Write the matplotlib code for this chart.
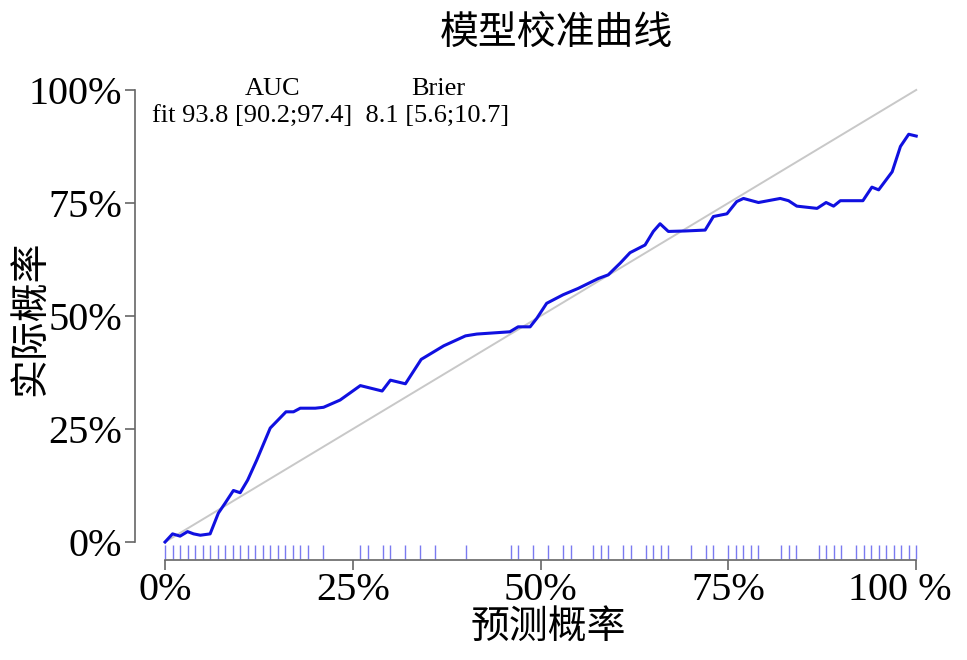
import matplotlib
matplotlib.use("Agg")
import matplotlib.pyplot as plt
from matplotlib.transforms import ScaledTranslation

plt.rcParams['font.family'] = ['Liberation Serif', 'Noto Sans CJK SC', 'DejaVu Sans']

pred = [0.0, 0.010, 0.020, 0.030, 0.038, 0.047, 0.060, 0.071, 0.080, 0.091, 0.100,
        0.110, 0.122, 0.140, 0.161, 0.171, 0.180, 0.200, 0.211, 0.233, 0.260, 0.289,
        0.300, 0.320, 0.341, 0.371, 0.400, 0.415, 0.459, 0.470, 0.486, 0.495, 0.508,
        0.530, 0.550, 0.577, 0.590, 0.606, 0.619, 0.639, 0.650, 0.659, 0.670, 0.692,
        0.719, 0.730, 0.748, 0.761, 0.770, 0.790, 0.819, 0.830, 0.841, 0.868, 0.880,
        0.890, 0.899, 0.929, 0.941, 0.950, 0.968, 0.979, 0.990, 1.0]
obs = [0.0, 0.018, 0.013, 0.023, 0.018, 0.015, 0.018, 0.064, 0.086, 0.114, 0.109,
       0.137, 0.181, 0.252, 0.288, 0.288, 0.296, 0.296, 0.298, 0.314, 0.346, 0.334,
       0.358, 0.350, 0.404, 0.434, 0.456, 0.460, 0.465, 0.476, 0.476, 0.495, 0.528,
       0.547, 0.561, 0.583, 0.591, 0.617, 0.640, 0.657, 0.687, 0.704, 0.687, 0.688,
       0.690, 0.720, 0.726, 0.753, 0.760, 0.751, 0.760, 0.755, 0.743, 0.738, 0.751,
       0.743, 0.755, 0.755, 0.785, 0.779, 0.819, 0.875, 0.902, 0.898]

# rug of predicted probabilities
rug = [i / 100 for i in range(20)] + [0.21, 0.26, 0.27, 0.29, 0.30, 0.32, 0.34, 0.36,
       0.40, 0.46, 0.47, 0.49, 0.51, 0.53, 0.54, 0.57, 0.58, 0.59, 0.61, 0.62, 0.64,
       0.65, 0.66, 0.67, 0.70, 0.72, 0.73, 0.75, 0.76, 0.77, 0.78, 0.79, 0.82, 0.83,
       0.84, 0.87, 0.88, 0.89, 0.90, 0.92, 0.93, 0.94, 0.95, 0.96, 0.97, 0.98, 0.99, 1.0]

ticks = [0, 0.25, 0.5, 0.75, 1.0]
xlabels = ['0%', '25%', '50%', '75%', '100 %']
ylabels = ['0%', '25%', '50%', '75%', '100%']

fig = plt.figure(figsize=(9.67, 6.6), dpi=100)
ax = fig.add_axes([135 / 967, 100 / 660, 800 / 967, 480 / 660])

ax.plot([0, 1], [0, 1], color='#c8c8c8', lw=1.4)
ax.plot(pred, obs, color='#1010e0', lw=2.2)
ax.vlines(rug, -0.0376, -0.0066, color='#7a7af0', lw=1.0)

ax.set_xlim(-0.04, 1.025)
ax.set_ylim(-0.0398, 1.022)

for s in ['top', 'right']:
    ax.spines[s].set_visible(False)
ax.spines['left'].set_bounds(0, 1)
ax.spines['bottom'].set_bounds(0, 1)
for s in ['left', 'bottom']:
    ax.spines[s].set_color('#666666')
    ax.spines[s].set_linewidth(1.2)

ax.set_xticks(ticks)
ax.set_xticklabels(xlabels)
ax.set_yticks(ticks)
ax.set_yticklabels(ylabels)
ax.tick_params(axis='both', colors='#666666', labelcolor='black', labelsize=29,
               length=7, width=1.2, pad=2)

# the last x label sits a bit to the left of its tick
lab = ax.get_xticklabels()[-1]
lab.set_transform(lab.get_transform() + ScaledTranslation(-0.16, 0, fig.dpi_scale_trans))

ax.text(0.143, 1.003, 'AUC', fontsize=19, ha='center', va='center')
ax.text(0.364, 1.003, 'Brier', fontsize=19, ha='center', va='center')
ax.text(-0.017, 0.94, 'fit 93.8 [90.2;97.4]  8.1 [5.6;10.7]', fontsize=19,
        ha='left', va='center')

fig.text(556 / 967, 1 - 35 / 660, '模型校准曲线', fontsize=28, ha='center', va='center')
fig.text(548 / 967, 1 - 628 / 660, '预测概率', fontsize=28, ha='center', va='center')
fig.text(32 / 967, 1 - 318 / 660, '实际概率', fontsize=28, ha='center', va='center',
         rotation=90)

fig.savefig('out.png', dpi=100)
